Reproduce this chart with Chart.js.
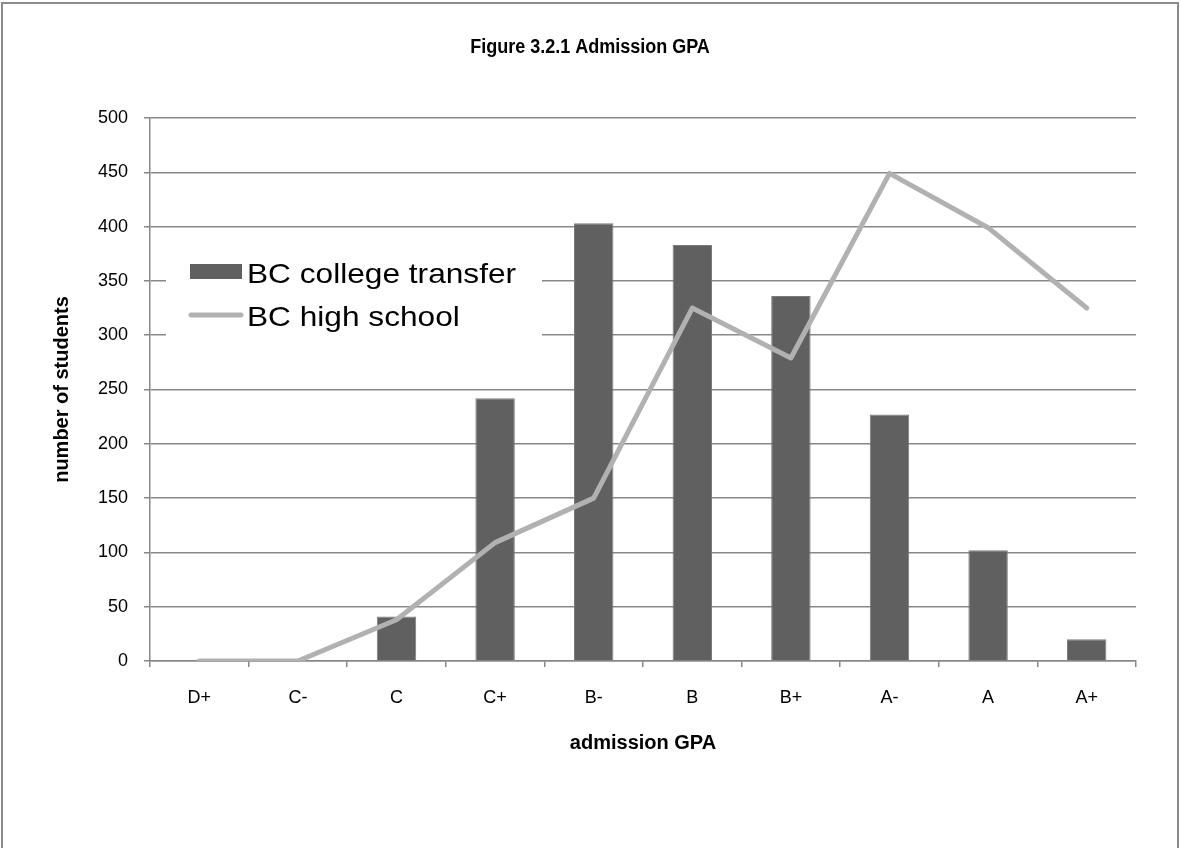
<!DOCTYPE html>
<html>
<head>
<meta charset="utf-8">
<title>Admission GPA</title>
<script src="https://cdn.jsdelivr.net/npm/chart.js@4.4.1/dist/chart.umd.min.js"></script>
<style>
    html, body { margin: 0; padding: 0; background: #fff; }
    #wrap { position: relative; width: 1181px; height: 848px; }
</style>
</head>
<body>
<div id="wrap"><canvas id="gpaChart" width="1181" height="848"></canvas></div>
<script>
// data
const grades = ['D+', 'C-', 'C', 'C+', 'B-', 'B', 'B+', 'A-', 'A', 'A+'];
const collegeTransfer = [0, 0, 41, 242, 403, 383, 336, 227, 102, 20];
const highSchool = [0, 0, 38, 109, 150, 325, 279, 449, 399, 325];
const yTicks = [0, 50, 100, 150, 200, 250, 300, 350, 400, 450, 500];
const chartTitle = 'Figure 3.2.1 Admission GPA';

const fontFamily = '"Liberation Sans", Arial, sans-serif';
Chart.defaults.font.family = fontFamily;
Chart.defaults.color = '#000';

// outer frame and the title, centred on the whole figure
const frame = {
    id: 'frame',
    beforeDraw(chart) {
        let c = chart.ctx;
        c.save();
        c.fillStyle = '#fff';
        c.fillRect(0, 0, chart.width, chart.height);
        c.strokeStyle = '#8c8c8c';
        c.lineWidth = 2;
        c.strokeRect(2, 3, 1176, 1000);

        // title glyphs are a bit narrow in the original
        c.fillStyle = '#000';
        c.font = 'bold 20px ' + fontFamily;
        c.textAlign = 'center';
        c.textBaseline = 'middle';
        c.translate(590, 47);
        c.scale(0.9, 1);
        c.fillText(chartTitle, 0, 0);
        c.restore();
    }
};

// legend sits in a white box inside the plot area
const boxLegend = {
    id: 'boxLegend',
    beforeDatasetsDraw(chart) {
        let c = chart.ctx;
        let sets = chart.data.datasets;
        c.save();
        c.fillStyle = '#fff';
        c.fillRect(166, 238, 376, 116);

        c.fillStyle = sets[0].backgroundColor;
        c.fillRect(190, 264, 52, 15);

        c.strokeStyle = sets[1].borderColor;
        c.lineWidth = 5;
        c.lineCap = 'round';
        c.beginPath();
        c.moveTo(191, 315);
        c.lineTo(241, 315);
        c.stroke();

        c.fillStyle = '#000';
        c.font = '28px ' + fontFamily;
        c.textBaseline = 'alphabetic';
        c.translate(247, 0);
        c.scale(1.13, 1);
        c.fillText(sets[0].label, 0, 283);
        c.fillText(sets[1].label, 0, 326);
        c.restore();
    }
};

let chart = new Chart(document.getElementById('gpaChart').getContext('2d'), {
    type: 'bar',
    data: {
        labels: grades,
        datasets: [{
            type: 'bar',
            label: 'BC college transfer',
            data: collegeTransfer,
            backgroundColor: '#606060',
            borderColor: '#7c7c7c',
            borderWidth: 1,
            barPercentage: 0.4,
            categoryPercentage: 1,
            order: 2
        }, {
            type: 'line',
            label: 'BC high school',
            data: highSchool,
            borderColor: '#b1b1b1',
            borderWidth: 5,
            pointRadius: 0,
            tension: 0,
            borderCapStyle: 'round',
            borderJoinStyle: 'round',
            order: 1
        }]
    },
    options: {
        responsive: false,
        animation: false,
        layout: { padding: { left: 0, right: 45, top: 118, bottom: 0 } },
        plugins: {
            legend: { display: false },
            tooltip: { enabled: false },
            title: { display: false }
        },
        scales: {
            x: {
                afterFit: (s) => { s.height = 187; },
                ticks: { font: { size: 18 }, color: '#000', padding: 20 },
                grid: { drawOnChartArea: false, color: '#888', lineWidth: 1.5, tickLength: 6 },
                border: { color: '#888', width: 1.5 },
                title: {
                    display: true,
                    text: 'admission GPA',
                    color: '#000',
                    font: { size: 20, weight: 'bold' },
                    padding: { top: 0, bottom: 93 }
                }
            },
            y: {
                min: 0,
                max: 500,
                afterBuildTicks: (s) => { s.ticks = yTicks.map(v => ({ value: v })); },
                afterFit: (s) => { s.width = 150; },
                ticks: { font: { size: 18 }, color: '#000', padding: 16 },
                grid: { color: '#888', lineWidth: 1.5, tickLength: 6 },
                border: { color: '#888', width: 1.5 },
                title: {
                    display: true,
                    text: 'number of students',
                    color: '#000',
                    font: { size: 20, weight: 'bold' },
                    padding: { top: 50, bottom: 0 }
                }
            }
        }
    },
    plugins: [frame, boxLegend]
});
</script>
</body>
</html>
